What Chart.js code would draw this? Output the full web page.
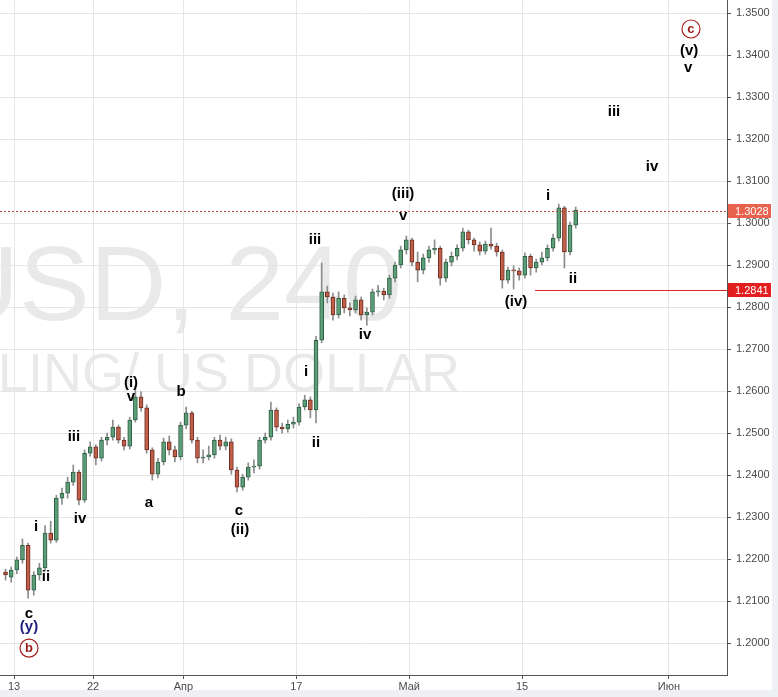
<!DOCTYPE html>
<html>
<head>
<meta charset="utf-8">
<script src="https://cdn.jsdelivr.net/npm/chart.js@4.4.0/dist/chart.umd.min.js"></script>
<style>
  html, body { margin: 0; padding: 0; background: #fff; }
  #wrap { width: 778px; height: 697px; }
</style>
</head>
<body>
<div id="wrap"><canvas id="chart" width="778" height="697"></canvas></div>
<script>
// GBPUSD 4H, half-day candles
const opens  = [1.2169,1.2157,1.2174,1.2198,1.2233,1.2126,1.2162,1.2179,1.2262,1.2245,
                1.2345,1.2357,1.2383,1.2407,1.2340,1.2452,1.2467,1.2440,1.2483,1.2490,
                1.2514,1.2483,1.2469,1.2531,1.2586,1.2560,1.2460,1.2402,1.2431,1.2479,
                1.2460,1.2443,1.2519,1.2548,1.2483,1.2440,1.2443,1.2448,1.2483,1.2469,
                1.2479,1.2412,1.2371,1.2395,1.2419,1.2421,1.2483,1.2490,1.2555,1.2514,
                1.2510,1.2521,1.2526,1.2562,1.2579,1.2555,1.2721,1.2836,1.2824,1.2781,
                1.2821,1.2798,1.2793,1.2817,1.2781,1.2788,1.2836,1.2838,1.2829,1.2869,
                1.2900,1.2936,1.2960,1.2907,1.2888,1.2917,1.2936,1.2940,1.2869,1.2907,
                1.2921,1.2940,1.2979,1.2960,1.2948,1.2933,1.2950,1.2945,1.2931,1.2864,
                1.2888,1.2886,1.2876,1.2921,1.2893,1.2907,1.2917,1.2940,1.2964,1.3036,
                1.2931,1.2995];
const highs  = [1.2176,1.2181,1.2205,1.2248,1.2238,1.2170,1.2190,1.2280,1.2290,1.2352,
                1.2369,1.2395,1.2424,1.2412,1.2460,1.2479,1.2472,1.2490,1.2500,1.2531,
                1.2519,1.2490,1.2538,1.2614,1.2598,1.2567,1.2465,1.2440,1.2488,1.2493,
                1.2469,1.2526,1.2562,1.2552,1.2490,1.2460,1.2469,1.2490,1.2495,1.2490,
                1.2486,1.2419,1.2402,1.2429,1.2436,1.2490,1.2500,1.2574,1.2560,1.2524,
                1.2531,1.2538,1.2570,1.2590,1.2586,1.2730,1.2905,1.2850,1.2833,1.2836,
                1.2829,1.2810,1.2826,1.2824,1.2798,1.2843,1.2852,1.2845,1.2876,1.2907,
                1.2945,1.2969,1.2964,1.2931,1.2926,1.2945,1.2960,1.2945,1.2914,1.2931,
                1.2948,1.2988,1.2983,1.2964,1.2955,1.2957,1.2988,1.2952,1.2936,1.2895,
                1.2898,1.2893,1.2929,1.2926,1.2914,1.2931,1.2948,1.2974,1.3045,1.3040,
                1.3002,1.3038];
const lows   = [1.2150,1.2145,1.2165,1.2190,1.2107,1.2114,1.2150,1.2172,1.2238,1.2240,
                1.2330,1.2345,1.2375,1.2329,1.2335,1.2445,1.2424,1.2433,1.2472,1.2483,
                1.2476,1.2460,1.2462,1.2526,1.2552,1.2452,1.2388,1.2393,1.2424,1.2448,
                1.2431,1.2436,1.2510,1.2476,1.2429,1.2429,1.2436,1.2440,1.2460,1.2460,
                1.2402,1.2360,1.2364,1.2388,1.2405,1.2414,1.2476,1.2483,1.2505,1.2500,
                1.2502,1.2512,1.2519,1.2555,1.2536,1.2524,1.2715,1.2810,1.2769,1.2774,
                1.2786,1.2779,1.2786,1.2769,1.2757,1.2781,1.2826,1.2817,1.2821,1.2860,
                1.2893,1.2926,1.2898,1.2860,1.2879,1.2907,1.2926,1.2852,1.2860,1.2898,
                1.2912,1.2933,1.2950,1.2933,1.2924,1.2926,1.2938,1.2921,1.2845,1.2857,
                1.2843,1.2864,1.2869,1.2876,1.2883,1.2900,1.2910,1.2933,1.2957,1.2893,
                1.2924,1.2988];
const closes = [1.2162,1.2174,1.2198,1.2233,1.2126,1.2162,1.2179,1.2262,1.2245,1.2345,
                1.2357,1.2383,1.2407,1.2340,1.2452,1.2467,1.2440,1.2483,1.2490,1.2514,
                1.2483,1.2469,1.2531,1.2586,1.2560,1.2460,1.2402,1.2431,1.2479,1.2460,
                1.2443,1.2519,1.2548,1.2483,1.2440,1.2443,1.2448,1.2483,1.2469,1.2479,
                1.2412,1.2371,1.2395,1.2419,1.2421,1.2483,1.2490,1.2555,1.2514,1.2510,
                1.2521,1.2526,1.2562,1.2579,1.2555,1.2721,1.2836,1.2824,1.2781,1.2821,
                1.2798,1.2793,1.2817,1.2781,1.2788,1.2836,1.2838,1.2829,1.2869,1.2900,
                1.2936,1.2960,1.2907,1.2888,1.2917,1.2936,1.2940,1.2869,1.2907,1.2921,
                1.2940,1.2979,1.2960,1.2948,1.2933,1.2950,1.2945,1.2931,1.2864,1.2888,
                1.2886,1.2876,1.2921,1.2893,1.2907,1.2917,1.2940,1.2964,1.3036,1.2931,
                1.2995,1.3031];

// x axis is in trading days, 0 = March 13
const firstCandleDay = -0.75;
const candleStep = 0.5;
const xTickDays   = [0, 7, 15, 25, 35, 45, 58];
const xTickLabels = ['13', '22', 'Апр', '17', 'Май', '15', 'Июн'];
const yTicks = [1.20, 1.21, 1.22, 1.23, 1.24, 1.25, 1.26, 1.27, 1.28, 1.29,
                1.30, 1.31, 1.32, 1.33, 1.34, 1.35];

// elliott wave marks
const waveText  = ['c', '(y)', 'b', 'i', 'ii', 'iii', 'iv', '(i)', 'v', 'a', 'b', 'c', '(ii)',
                   'i', 'ii', 'iii', 'iv', '(iii)', 'v', '(iv)', 'i', 'ii', 'iii', 'iv', 'c', '(v)', 'v'];
const waveDay   = [1.33, 1.33, 1.33, 1.95, 2.83, 5.31, 5.85, 10.36, 10.36, 11.96, 14.79, 19.93, 20.02,
                   25.86, 26.75, 26.66, 31.09, 34.46, 34.46, 44.46, 47.30, 49.51, 53.14, 56.51, 59.96, 59.79, 59.70];
const wavePrice = [1.2069, 1.2038, 1.1988, 1.2276, 1.2157, 1.2490, 1.2295, 1.2619, 1.2585, 1.2333, 1.2598, 1.2314, 1.2269,
                   1.2645, 1.2476, 1.2960, 1.2733, 1.3069, 1.3017, 1.2812, 1.3064, 1.2867, 1.3264, 1.3133, 1.3462, 1.3410, 1.3369];
const waveKind  = ['t', 'y', 'o', 't', 't', 't', 't', 't', 't', 't', 't', 't', 't',
                   't', 't', 't', 't', 't', 't', 't', 't', 't', 't', 't', 'o', 't', 't'];

const lastPrice = 1.3028;
const levelPrice = 1.2841;
const levelStartDay = 46.15;

const up = '#5c9e78', upEdge = '#2f5e44';
const down = '#c0604a', downEdge = '#6e2b1f';

const days = closes.map((c, i) => firstCandleDay + i * candleStep);
const wickData = days.map((d, i) => ({ x: d, y: [lows[i], highs[i]] }));
const bodyData = days.map((d, i) => ({ x: d, y: [opens[i], closes[i]] }));
const bodyFill = closes.map((c, i) => c >= opens[i] ? up : down);
const bodyEdge = closes.map((c, i) => c >= opens[i] ? upEdge : downEdge);

// background, watermark
const backdrop = {
    id: 'backdrop',
    beforeDraw(chart) {
        const ctx = chart.ctx;
        ctx.save();
        ctx.fillStyle = '#fff';
        ctx.fillRect(0, 0, chart.width, chart.height);
        ctx.fillStyle = '#eef0f3';
        ctx.fillRect(0, 690, chart.width, chart.height - 690);
        ctx.fillRect(772, 0, chart.width - 772, chart.height);
        ctx.fillStyle = 'rgba(0,0,0,0.085)';
        ctx.textAlign = 'right';
        ctx.textBaseline = 'alphabetic';
        ctx.font = "106px 'Liberation Sans', Arial, sans-serif";
        ctx.fillText('GBPUSD, 240', 402, 320);
        ctx.font = "54px 'Liberation Sans', Arial, sans-serif";
        ctx.fillText('POUND STERLING/ US DOLLAR', 460, 391);
        ctx.restore();
    }
};

// price lines, tags and wave labels
const overlay = {
    id: 'overlay',
    afterDatasetsDraw(chart) {
        const ctx = chart.ctx, xs = chart.scales.x, ys = chart.scales.y, area = chart.chartArea;
        ctx.save();
        // last price dotted line
        const yl = Math.round(ys.getPixelForValue(lastPrice)) + 0.5;
        ctx.strokeStyle = '#b4502e';
        ctx.lineWidth = 1;
        ctx.setLineDash([2, 2]);
        ctx.beginPath(); ctx.moveTo(area.left, yl); ctx.lineTo(area.right, yl); ctx.stroke();
        ctx.setLineDash([]);
        // level line
        const yv = Math.round(ys.getPixelForValue(levelPrice)) + 0.5;
        ctx.strokeStyle = '#e02424';
        ctx.beginPath(); ctx.moveTo(xs.getPixelForValue(levelStartDay), yv); ctx.lineTo(area.right, yv); ctx.stroke();

        // wave labels
        ctx.textAlign = 'center';
        ctx.textBaseline = 'middle';
        waveText.forEach((t, i) => {
            const px = xs.getPixelForValue(waveDay[i]);
            const py = ys.getPixelForValue(wavePrice[i]);
            if (waveKind[i] === 'o') {
                ctx.strokeStyle = '#a82020';
                ctx.lineWidth = 1.2;
                ctx.beginPath(); ctx.arc(px, py, 9, 0, Math.PI * 2); ctx.stroke();
                ctx.fillStyle = '#9c1a1a';
                ctx.font = "bold 13px 'Liberation Sans', Arial, sans-serif";
                ctx.fillText(t, px, py);
            } else {
                ctx.fillStyle = waveKind[i] === 'y' ? '#1c1c80' : '#000';
                ctx.font = "bold 15px 'Liberation Sans', Arial, sans-serif";
                ctx.fillText(t, px, py);
            }
        });
        ctx.restore();
    },
    afterDraw(chart) {
        const ctx = chart.ctx, ys = chart.scales.y, area = chart.chartArea;
        ctx.save();
        ctx.font = "11px 'Liberation Sans', Arial, sans-serif";
        ctx.textAlign = 'left';
        ctx.textBaseline = 'middle';
        [[lastPrice, '#e8624e'], [levelPrice, '#e21e1e']].forEach(([p, col]) => {
            const py = Math.round(ys.getPixelForValue(p));
            ctx.fillStyle = col;
            ctx.fillRect(area.right + 1, py - 7, 43, 14);
            ctx.fillStyle = '#fff';
            ctx.fillText(p.toFixed(4), area.right + 8, py + 0.5);
        });
        ctx.restore();
    }
};

new Chart(document.getElementById('chart'), {
    type: 'bar',
    data: {
        datasets: [
            {
                label: 'wick',
                data: wickData,
                backgroundColor: '#8c8c8c',
                barThickness: 1,
                order: 2
            },
            {
                label: 'body',
                data: bodyData,
                backgroundColor: bodyFill,
                borderColor: bodyEdge,
                borderWidth: 1,
                borderSkipped: false,
                barThickness: 4,
                minBarLength: 1,
                order: 1
            }
        ]
    },
    options: {
        responsive: false,
        animation: false,
        grouped: false,
        layout: { padding: 0 },
        plugins: { legend: { display: false }, tooltip: { enabled: false } },
        scales: {
            x: {
                type: 'linear',
                offset: false,
                min: -1.24,
                max: 63.15,
                afterBuildTicks: s => { s.ticks = xTickDays.map(v => ({ value: v })); },
                afterFit: s => { s.height = 22; s.paddingLeft = 0; s.paddingRight = 0; },
                ticks: {
                    callback: (v) => xTickLabels[xTickDays.indexOf(v)],
                    color: '#4a4a4a',
                    font: { family: "'Liberation Sans', Arial, sans-serif", size: 11 },
                    padding: 1,
                    maxRotation: 0,
                    autoSkip: false
                },
                grid: { color: '#e6e6e6', tickColor: '#555', tickLength: 4, offset: false },
                border: { display: true, color: '#555' }
            },
            y: {
                position: 'right',
                min: 1.1924,
                max: 1.3531,
                afterBuildTicks: s => { s.ticks = yTicks.map(v => ({ value: v })); },
                afterFit: s => { s.width = 51; s.paddingTop = 0; s.paddingBottom = 0; },
                ticks: {
                    callback: v => v.toFixed(4),
                    color: '#4a4a4a',
                    font: { family: "'Liberation Sans', Arial, sans-serif", size: 11 },
                    padding: 5
                },
                grid: { color: '#e6e6e6', tickColor: '#555', tickLength: 4 },
                border: { display: true, color: '#555' }
            }
        }
    },
    plugins: [backdrop, overlay]
});
</script>
</body>
</html>
